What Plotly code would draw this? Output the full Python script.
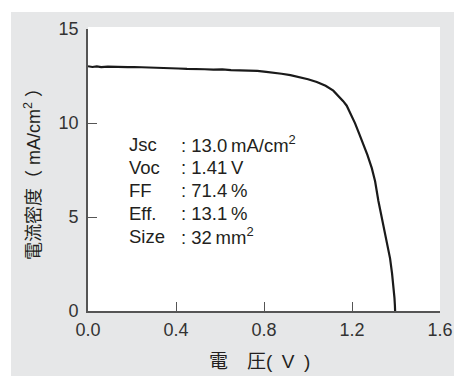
import plotly.graph_objects as go

# J-V curve
voltage = [0.00, 0.02, 0.04, 0.06, 0.09, 0.12, 0.15, 0.18, 0.21, 0.25, 0.29, 0.33, 0.37,
           0.41, 0.45, 0.49, 0.53, 0.57, 0.61, 0.65, 0.69, 0.73, 0.77, 0.81, 0.85, 0.88,
           0.92, 0.96, 1.00, 1.04, 1.08, 1.115, 1.14, 1.16, 1.176, 1.195, 1.214, 1.232,
           1.251, 1.27, 1.29, 1.305, 1.32, 1.335, 1.35, 1.362, 1.373, 1.382, 1.388,
           1.393, 1.395, 1.396]
current = [13.02, 12.98, 13.01, 12.97, 13.00, 12.98, 12.99, 12.97, 12.98, 12.97, 12.95, 12.93,
           12.94, 12.90, 12.88, 12.89, 12.86, 12.84, 12.85, 12.81, 12.80, 12.78, 12.77, 12.72,
           12.68, 12.62, 12.55, 12.45, 12.33, 12.18, 11.98, 11.72, 11.42, 11.16, 10.92, 10.48,
           9.98, 9.45, 8.92, 8.30, 7.60, 6.90, 5.85, 5.00, 4.25, 3.50, 2.80, 2.00, 1.40,
           0.70, 0.30, 0.00]

x_tickvals = [0.0, 0.4, 0.8, 1.2, 1.6]
x_ticktext = ["0.0", "0.4", "0.8", "1.2", "1.6"]
y_tickvals = [0, 5, 10, 15]
y_ticktext = ["0", "5", "10", "15"]

param_labels = ["Jsc", "Voc", "FF", "Eff.", "Size"]
param_values = [": 13.0\u2009mA/cm<sup>2</sup>", ": 1.41\u2009V", ": 71.4\u2009%",
                ": 13.1\u2009%", ": 32\u2009mm<sup>2</sup>"]

x_title = "電　圧(\u2002V\u2002)"
y_title = "電流密度（ mA/cm<sup>2</sup> ）"

W, H = 454, 376
L, R, T, B = 88, 440, 29, 311  # plot area in pixels
pw, ph = R - L, B - T


def px(xp):
    return (xp - L) / pw


def py(yp):
    return (B - yp) / ph


fig = go.Figure()
fig.add_trace(go.Scatter(x=voltage, y=current, mode="lines",
                         line=dict(color="#1a1a1a", width=2.2), showlegend=False,
                         hoverinfo="skip"))

font_main = "Liberation Sans, Arial, Helvetica, sans-serif"
font_mix = "Liberation Sans, Noto Sans CJK JP, sans-serif"
gray = "#e6e7e8"

shapes = [
    # white strips outside the gray frame (top and left)
    dict(type="rect", xref="paper", yref="paper", x0=px(-5), x1=px(460), y0=py(12), y1=py(-5),
         fillcolor="white", line=dict(width=0), layer="below"),
    dict(type="rect", xref="paper", yref="paper", x0=px(-5), x1=px(11), y0=py(380), y1=py(-5),
         fillcolor="white", line=dict(width=0), layer="below"),
    # white plotting panel, slightly taller than the axis range
    dict(type="rect", xref="paper", yref="paper", x0=px(88), x1=px(440), y0=py(311), y1=py(27),
         fillcolor="white", line=dict(width=0), layer="below"),
]

annotations = []
line_ys = [144, 167, 190, 213, 236]
for lab, val, yy in zip(param_labels, param_values, line_ys):
    annotations.append(dict(xref="paper", yref="paper", x=px(127), y=py(yy), text=lab,
                            showarrow=False, xanchor="left", yanchor="middle",
                            font=dict(family=font_main, size=18.5, color="#231f20")))
    annotations.append(dict(xref="paper", yref="paper", x=px(178.5), y=py(yy), text=val,
                            showarrow=False, xanchor="left", yanchor="middle",
                            font=dict(family=font_main, size=18.5, color="#231f20")))

annotations.append(dict(xref="paper", yref="paper", x=px(259), y=py(361), text=x_title,
                        showarrow=False, xanchor="center", yanchor="middle",
                        font=dict(family=font_mix, size=19, color="#231f20")))
annotations.append(dict(xref="paper", yref="paper", x=px(32), y=py(170), text=y_title,
                        showarrow=False, xanchor="center", yanchor="middle", textangle=-90,
                        font=dict(family=font_mix, size=18, color="#231f20")))

axis_common = dict(ticks="inside", ticklen=9, tickwidth=1.3, tickcolor="#555555",
                   showline=True, linecolor="#555555", linewidth=1.6, showgrid=False,
                   zeroline=False, automargin=False, fixedrange=True,
                   tickfont=dict(family=font_main, size=18, color="#333333"))

fig.update_layout(
    width=W, height=H,
    margin=dict(l=L, r=W - R, t=T, b=H - B, pad=0, autoexpand=False),
    paper_bgcolor=gray,
    plot_bgcolor="rgba(0,0,0,0)",
    shapes=shapes,
    annotations=annotations,
    xaxis=dict(range=[0, 1.6], tickvals=x_tickvals, ticktext=x_ticktext,
               ticklabelstandoff=2, **axis_common),
    yaxis=dict(range=[0, 15], tickvals=y_tickvals, ticktext=y_ticktext,
               ticklabelstandoff=4, **axis_common),
)

fig.write_html(
    "out.html",
    config={"displayModeBar": False},
    post_script="document.body.style.margin='0';document.documentElement.style.overflow='hidden';",
)
